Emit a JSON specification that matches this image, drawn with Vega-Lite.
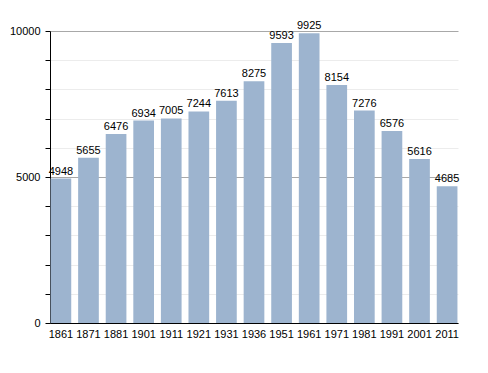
{
  "$schema": "https://vega.github.io/schema/vega-lite/v6.json",
  "width": 408,
  "height": 292,
  "autosize": {"type": "none"},
  "padding": {"left": 50, "top": 31, "right": 30, "bottom": 50},
  "background": "white",
  "config": {"view": {"stroke": null}, "font": "Liberation Sans"},
  "data": {"values": [
    {"year": "1861", "pop": 4948},
    {"year": "1871", "pop": 5655},
    {"year": "1881", "pop": 6476},
    {"year": "1901", "pop": 6934},
    {"year": "1911", "pop": 7005},
    {"year": "1921", "pop": 7244},
    {"year": "1931", "pop": 7613},
    {"year": "1936", "pop": 8275},
    {"year": "1951", "pop": 9593},
    {"year": "1961", "pop": 9925},
    {"year": "1971", "pop": 8154},
    {"year": "1981", "pop": 7276},
    {"year": "1991", "pop": 6576},
    {"year": "2001", "pop": 5616},
    {"year": "2011", "pop": 4685}
  ]},
  "encoding": {
    "x": {"field": "year", "type": "nominal", "sort": null,
      "scale": {"paddingInner": 0.25, "paddingOuter": 0.02},
      "axis": {"title": null, "labelAngle": 0, "ticks": false, "labelFontSize": 11, "labelColor": "black", "domainColor": "black", "labelPadding": 5}},
    "y": {"field": "pop", "type": "quantitative",
      "scale": {"domain": [0, 10000], "nice": false},
      "axis": {"title": null, "values": [0,1000,2000,3000,4000,5000,6000,7000,8000,9000,10000],
        "labelExpr": "datum.value % 5000 === 0 ? datum.value : ''",
        "labelFontSize": 11, "labelColor": "black", "domainColor": "black", "tickColor": "black", "tickSize": 5, "labelPadding": 5,
        "gridColor": {"condition": {"test": "datum.value % 5000 === 0", "value": "#a8a8a8"}, "value": "#ececec"}}}
  },
  "layer": [
    {"mark": {"type": "bar", "color": "#9db4cf"}},
    {"mark": {"type": "text", "baseline": "bottom", "dy": -2, "fontSize": 11, "color": "black"},
      "encoding": {"text": {"field": "pop", "type": "quantitative", "format": "d"}}}
  ]
}
